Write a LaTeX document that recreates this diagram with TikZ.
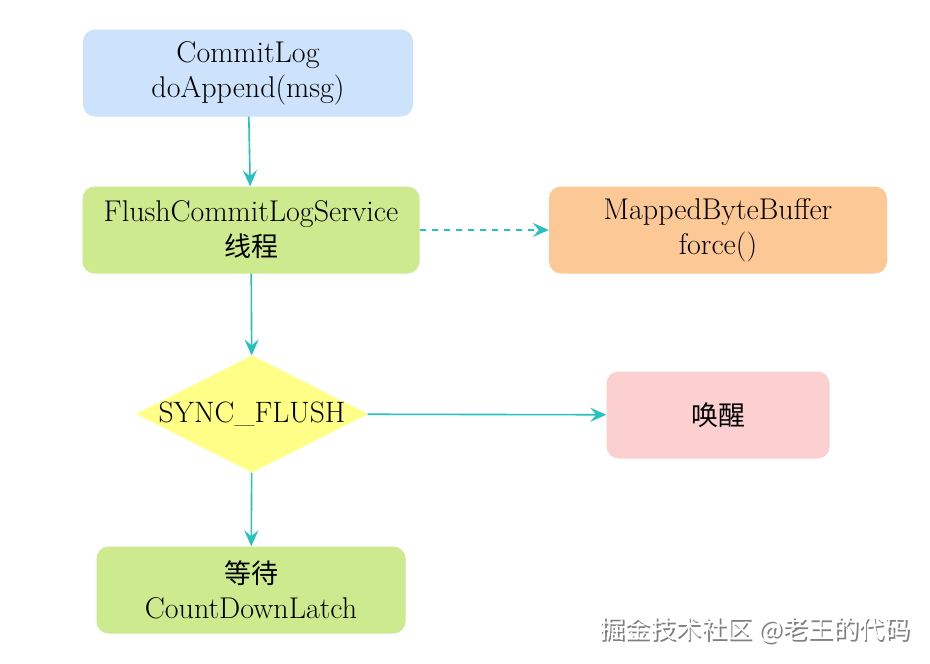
\documentclass[tikz,border=0pt]{standalone}
\usepackage{fontspec}
\newfontfamily\cjk{Noto Sans CJK SC}
\usetikzlibrary{shapes.geometric,arrows.meta}

\definecolor{arrowteal}{HTML}{26C2C0}
\definecolor{logblue}{HTML}{CCE3FB}
\definecolor{threadgreen}{HTML}{CDEA8E}
\definecolor{bufferorange}{HTML}{FCC896}
\definecolor{flushyellow}{HTML}{FFFF88}
\definecolor{wakepink}{HTML}{FCD0D0}

\tikzset{
	box/.style={rounded corners=12pt, minimum height=87pt, inner sep=0pt, align=center,
		font=\fontsize{30}{35}\selectfont},
	flow/.style={draw=arrowteal, line width=1.6pt,
		-{Stealth[length=16pt,width=14pt,inset=6pt]}},
}

\begin{document}
\begin{tikzpicture}[x=1pt,y=-1pt]
	\useasboundingbox[fill=white] (0,0) rectangle (930,664);

	\node[box, fill=logblue, minimum width=330pt] (commitlog) at (248,73) {CommitLog\\doAppend(msg)};
	\node[box, fill=threadgreen, minimum width=337pt] (flushsvc) at (251,230) {FlushCommitLogService\\{\cjk\fontsize{27}{35}\selectfont 线程}};
	\node[box, fill=bufferorange, minimum width=338pt] (mapped) at (718,230) {MappedByteBuffer\\force()};
	\node[diamond, aspect=2, fill=flushyellow, inner sep=-4pt, minimum width=232pt, minimum height=117pt,
		font=\fontsize{29.5}{35}\selectfont] (syncflush) at (252,414) {SYNC\_FLUSH};
	\node[box, fill=wakepink, minimum width=223pt] (wake) at (718,415) {\cjk\fontsize{27}{35}\selectfont 唤醒};
	\node[box, fill=threadgreen, minimum width=309pt] (wait) at (251,590) {{\cjk\fontsize{27}{35}\selectfont 等待}\\CountDownLatch};

	\draw[flow] (commitlog) -- (flushsvc);
	\draw[flow, dash pattern=on 6pt off 6pt] (flushsvc) -- (mapped);
	\draw[flow] (flushsvc) -- (syncflush);
	\draw[flow] (syncflush) -- (wake);
	\draw[flow] (syncflush) -- (wait);

	% watermark
	\node[text=gray, font=\cjk\fontsize{25.5}{30}\selectfont] (markshadow) at (756.5,631.5) {掘金技术社区 @老王的代码};
	\node[text=white, font=\cjk\fontsize{25.5}{30}\selectfont] (mark) at (755,630) {掘金技术社区 @老王的代码};
\end{tikzpicture}
\end{document}
